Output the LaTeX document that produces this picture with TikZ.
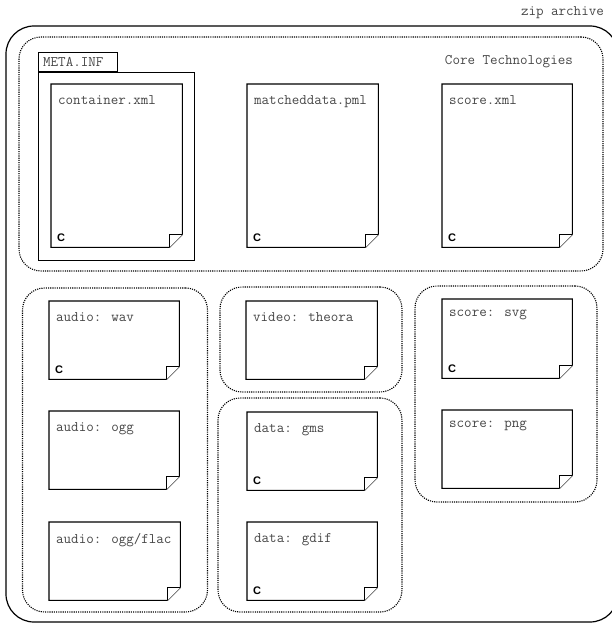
\documentclass[tikz,border=0pt]{standalone}
\usepackage{fontspec}
\newfontfamily\csans{Liberation Sans}
\begin{document}
\begin{tikzpicture}[x=1bp,y=-1bp,
  lbl/.style={font=\ttfamily\fontsize{14.6bp}{16bp}\selectfont, text=black!72, inner sep=0pt},
  cmark/.style={font=\csans\bfseries\fontsize{11bp}{12bp}\selectfont, inner sep=0pt},
  docbody/.style={draw=none, inner sep=0pt},
  docline/.style={draw=black, line width=1.1bp, fill=white, line join=miter},
  grp/.style={draw=black, dash pattern=on 1.1bp off 1.1bp, line width=1.1bp, rounded corners=22bp},
  ziprect/.style={draw=black, line width=1.2bp, rounded corners=28bp},
  metabox/.style={draw=black, line width=1bp, fill=white, inner sep=0pt}]
\useasboundingbox (0,0) rectangle (612,624);

% zip archive
\node[ziprect, minimum width=612bp, minimum height=596bp, inner sep=0pt] (zip) at (312,324) {};
\node[lbl, anchor=east] (ziplbl) at (604,13) {zip archive};

% groups
\node[grp, minimum width=584bp, minimum height=234bp, inner sep=0pt] (core) at (311,154) {};
\node[lbl, anchor=east] (corelbl) at (573,62) {Core Technologies};
\node[grp, minimum width=185bp, minimum height=324bp, inner sep=0pt] (audio) at (115,450) {};
\node[grp, minimum width=182bp, minimum height=105bp, inner sep=0pt] (video) at (311,339.5) {};
\node[grp, minimum width=184bp, minimum height=214bp, inner sep=0pt] (data) at (310,505) {};
\node[grp, minimum width=182bp, minimum height=216bp, inner sep=0pt] (score) at (506,394) {};

% META.INF
\node[metabox, minimum width=156bp, minimum height=188bp] (meta) at (116.5,166.5) {};
\node[metabox, minimum width=79bp, minimum height=19bp, anchor=south west] (metatab) at (meta.north west) {};
\node[lbl, anchor=west] (metalbl) at ([xshift=5bp]metatab.west) {META.INF};

% document macro: name, x1, y1, x2, y2, label, C-mark (1/0)
\newcommand\mydoc[7]{%
  \node[docbody, minimum width=#4bp-#2bp, minimum height=#5bp-#3bp, anchor=north west] (#1) at (#2,#3) {};
  \draw[docline] (#1.north west) -- (#1.north east) -- ([yshift=13bp]#1.south east)
     -- ([xshift=-13bp]#1.south east) -- (#1.south west) -- cycle;
  \draw[docline] ([yshift=13bp]#1.south east) -- ([xshift=-13bp,yshift=13bp]#1.south east)
     -- ([xshift=-13bp]#1.south east);
  \node[lbl, anchor=north west] (#1-l) at ([xshift=7bp,yshift=-11bp]#1.north west) {#6};
  \ifnum#7=1
    \node[cmark, anchor=south west] (#1-c) at ([xshift=6bp,yshift=6bp]#1.south west) {C};
  \fi
}

\mydoc{container}{51}{84}{182}{247}{container.xml}{1}
\mydoc{matched}{247}{84}{378}{247}{matcheddata.pml}{1}
\mydoc{scorexml}{442}{84}{572}{247}{score.xml}{1}

\mydoc{wav}{49}{301}{179}{379}{audio: wav}{1}
\mydoc{ogg}{49}{411}{179}{489}{audio: ogg}{0}
\mydoc{flac}{49}{522}{180}{600}{audio: ogg/flac}{0}

\mydoc{theora}{246}{301}{377}{379}{video: theora}{0}
\mydoc{gms}{247}{412}{377}{490}{data: gms}{1}
\mydoc{gdif}{247}{522}{377}{600}{data: gdif}{1}

\mydoc{svg}{442}{299}{572}{378}{score: svg}{1}
\mydoc{png}{442}{410}{572}{488}{score: png}{0}
\end{tikzpicture}
\end{document}
